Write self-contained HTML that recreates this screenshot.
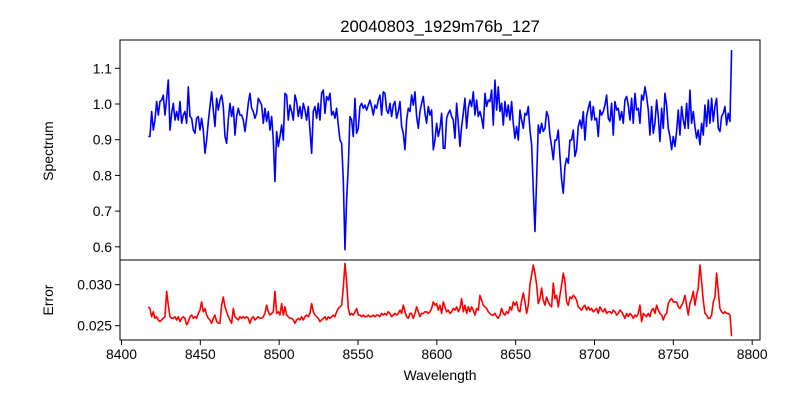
<!DOCTYPE html>
<html><head><meta charset="utf-8"><style>
html,body{margin:0;padding:0;background:#fff;}
svg text{font-family:"Liberation Sans","DejaVu Sans",sans-serif;}
</style></head><body>
<svg id="chart" width="800" height="400" viewBox="0 0 800 400" xmlns="http://www.w3.org/2000/svg">
<rect width="800" height="400" fill="#fff"/>
<text x="440" y="32" font-size="16.7" text-anchor="middle">20040803_1929m76b_127</text>
<text x="0" y="0" font-size="13.9" text-anchor="middle" transform="translate(53,151) rotate(-90)">Spectrum</text>
<text x="0" y="0" font-size="13.9" text-anchor="middle" transform="translate(53,300) rotate(-90)">Error</text>
<text x="440" y="380" font-size="13.9" text-anchor="middle">Wavelength</text>
<g id="plots"></g>
</svg>
<script>
const waveStart = 8417.0;
const waveStep = 1.057;
const spectrum = [0.909,0.909,0.979,0.927,0.955,1.007,0.969,1.007,1.011,1.025,0.969,1.016,1.067,0.927,0.974,1.002,0.955,0.979,0.955,1.007,0.946,0.969,0.979,0.946,1.048,0.965,0.960,0.927,0.918,0.960,0.965,0.927,0.960,0.927,0.862,0.899,0.951,0.993,1.034,0.983,0.937,1.016,0.983,1.011,1.025,0.993,0.909,0.890,0.955,1.002,0.965,0.993,0.913,0.965,0.988,0.969,0.969,0.955,0.923,0.960,1.002,1.030,0.988,0.979,0.960,0.974,1.016,1.007,0.997,0.946,0.988,0.951,0.979,0.927,0.965,0.899,0.783,0.923,0.881,0.909,0.941,0.899,1.030,1.025,0.955,0.997,0.979,0.955,1.025,1.007,0.965,0.993,0.960,1.002,0.983,0.955,0.993,0.927,0.862,0.979,0.993,0.960,1.002,0.955,1.030,1.039,0.974,1.021,1.011,1.030,0.969,0.979,0.960,0.988,0.941,0.899,0.890,0.788,0.592,0.732,0.825,0.965,0.955,0.909,1.016,0.918,0.932,0.993,
1.002,0.988,0.997,0.983,0.997,1.011,0.993,0.969,0.997,0.988,1.011,1.025,0.969,1.034,1.030,0.983,0.974,1.002,0.965,0.997,1.007,0.960,0.979,1.007,0.937,0.918,0.872,0.955,0.988,0.979,1.025,0.997,1.034,0.965,0.932,0.979,1.002,1.021,0.974,0.946,0.993,0.969,0.983,0.872,0.899,0.946,0.909,0.932,0.974,0.876,0.876,0.960,0.974,0.983,0.965,0.955,0.904,1.002,0.946,0.881,0.937,0.974,1.016,0.932,0.988,1.011,0.993,1.034,0.969,1.011,0.965,0.979,0.960,0.932,1.030,0.993,1.011,1.007,1.039,0.941,1.067,0.983,1.048,0.979,1.002,0.941,1.007,0.965,0.997,0.955,1.007,0.946,0.904,0.937,0.899,0.983,0.955,0.932,0.974,0.969,0.993,0.927,0.886,0.760,0.643,0.788,0.941,0.918,0.946,0.923,0.932,0.979,0.965,0.913,0.881,0.844,0.899,0.899,0.927,0.853,0.788,0.750,0.825,0.848,0.834,0.899,
0.899,0.927,0.853,0.872,0.937,0.955,0.932,0.979,0.899,0.965,0.988,1.007,0.955,0.993,0.955,0.960,0.909,0.983,0.969,0.979,0.997,1.025,0.960,0.951,1.002,0.913,1.007,0.983,0.988,0.955,0.979,0.946,1.011,1.021,0.997,0.955,1.016,0.946,1.030,0.983,0.988,0.946,1.025,1.011,1.048,1.021,0.983,0.913,0.993,0.918,0.946,1.011,0.965,0.895,0.988,0.932,1.030,0.997,0.932,0.909,0.872,0.909,0.881,0.923,0.983,0.913,0.993,0.955,0.932,1.002,0.932,1.039,0.946,0.979,0.937,0.904,0.927,0.886,0.946,0.913,0.997,0.937,1.011,0.946,1.016,0.951,0.993,1.016,0.932,0.923,0.965,0.974,0.993,0.941,0.974,0.951,1.151];
const errorVals = [.0273,.0271,.0261,.0267,.0259,.0261,.0257,.0255,.0257,.0259,.0261,.0292,.0275,.0261,.0259,.0259,.0261,.0257,.0261,.0255,.0259,.0261,.0259,.0251,.0255,.0261,.0263,.0259,.0261,.0259,.0265,.0269,.0279,.0267,.0271,.0263,.0259,.0257,.0253,.0259,.0263,.0255,.0253,.0253,.0275,.0285,.0273,.0267,.0261,.0257,.0253,.0271,.0261,.0259,.0257,.0261,.0259,.0261,.0259,.0261,.0259,.0253,.0259,.0261,.0257,.0259,.0261,.0259,.0259,.0261,.0265,.0275,.0267,.0263,.0265,.0267,.0292,.0265,.0267,.0263,.0277,.0263,.0273,.0263,.0261,.0259,.0259,.0257,.0253,.0257,.0259,.0257,.0261,.0257,.0261,.0263,.0261,.0265,.0277,.0267,.0263,.0261,.0259,.0255,.0257,.0259,.0261,.0257,.0261,.0259,.0261,.0263,.0261,.0267,.0271,.0273,.0275,.0296,.0326,.0304,.0271,.0263,.0265,.0263,.0267,.0271,.0263,.0263,.0261,.0263,.0261,.0261,.0263,.0261,.0261,.0263,.0261,.0263,.0263,.0261,.0265,.0263,.0265,.0263,.0267,.0265,.0261,.0263,.0265,.0263,.0265,.0269,.0265,.0275,.0267,.0261,.0259,.0265,.0265,.0259,.0265,.0273,.0267,.0261,.0265,.0265,.0267,.0267,.0265,.0267,.0271,.0279,.0275,.0277,.0269,
.0275,.0265,.0279,.0273,.0267,.0269,.0265,.0267,.0271,.0269,.0273,.0267,.0271,.0283,.0267,.0275,.0265,.0273,.0267,.0273,.0269,.0263,.0271,.0269,.0287,.0281,.0275,.0273,.0271,.0267,.0265,.0263,.0263,.0265,.0261,.0259,.0263,.0271,.0265,.0263,.0267,.0265,.0273,.0269,.0279,.0275,.0279,.0269,.0267,.0281,.0290,.0279,.0265,.0275,.0300,.0312,.0324,.0314,.0300,.0277,.0283,.0296,.0281,.0275,.0285,.0279,.0275,.0273,.0302,.0283,.0287,.0273,.0287,.0300,.0314,.0304,.0279,.0275,.0285,.0283,.0287,.0285,.0281,.0273,.0271,.0269,.0273,.0275,.0269,.0273,.0269,.0271,.0267,.0269,.0271,.0265,.0273,.0269,.0267,.0271,.0265,.0267,.0267,.0265,.0269,.0267,.0263,.0265,.0269,.0267,.0263,.0259,.0265,.0261,.0265,.0263,.0259,.0263,.0261,.0265,.0275,.0255,.0265,.0263,.0261,.0265,.0261,.0269,.0271,.0265,.0275,.0269,.0265,.0263,.0257,.0263,.0265,.0277,.0281,.0283,.0279,.0279,.0279,.0273,.0271,.0275,.0279,.0287,.0275,.0263,.0277,.0283,.0292,.0275,.0287,.0296,.0324,.0304,.0281,.0265,.0263,.0259,.0259,.0263,.0279,.0285,.0314,.0292,.0271,.0267,.0265,.0267,.0265,.0265,.0263,.0237];
const xTicks = [8400,8450,8500,8550,8600,8650,8700,8750,8800];
const specTicks = [0.6,0.7,0.8,0.9,1.0,1.1];
const errTicks = [0.025,0.030];

const NS='http://www.w3.org/2000/svg';
const g=document.getElementById('plots');
const L=120,R=760,T1=40,B1=260,T2=260,B2=340;
function xs(w){return 121.5+(w-8400)*1.5767;}
function ys1(v){return 104-(v-1.0)*357;}
function ys2(e){return 325.7-(e-0.025)*8200;}
function mk(tag,attrs){const e=document.createElementNS(NS,tag);for(const k in attrs)e.setAttribute(k,attrs[k]);g.appendChild(e);return e;}

function line(vals,ys,color,name){
  let d='';
  vals.forEach((v,i)=>{const w=waveStart+i*waveStep;d+=(i?'L':'M')+xs(w).toFixed(2)+','+ys(v).toFixed(2);});
  const p=mk('path',{d:d,fill:'none',stroke:color,'stroke-width':1.6,'stroke-linejoin':'round'});
  
  
}
line(spectrum,ys1,'#0000ff','spectrum-line');
line(errorVals,ys2,'#ff0000','error-line');

const f1=mk('rect',{x:L,y:T1,width:R-L,height:B1-T1,fill:'none',stroke:'#000','stroke-width':1});


const f2=mk('rect',{x:L,y:T2,width:R-L,height:B2-T2,fill:'none',stroke:'#000','stroke-width':1});



xTicks.forEach(t=>{
  const x=xs(t);
  const tk=mk('line',{x1:x,x2:x,y1:B2,y2:B2+5,stroke:'#000','stroke-width':1});
  
  
  const tx=mk('text',{x:x,y:B2+19,'font-size':13.9,'text-anchor':'middle'});
  tx.textContent=t;
  
  
});
specTicks.forEach(t=>{
  const y=ys1(t);
  const tk=mk('line',{x1:L-5,x2:L,y1:y,y2:y,stroke:'#000','stroke-width':1});
  
  
  const tx=mk('text',{x:L-8,y:y+5,'font-size':13.9,'text-anchor':'end'});
  tx.textContent=t.toFixed(1);
  
  
});
errTicks.forEach(t=>{
  const y=ys2(t);
  const tk=mk('line',{x1:L-5,x2:L,y1:y,y2:y,stroke:'#000','stroke-width':1});
  
  
  const tx=mk('text',{x:L-8,y:y+5,'font-size':13.9,'text-anchor':'end'});
  tx.textContent=t.toFixed(3);
  
  
});
</script>
</body></html>
